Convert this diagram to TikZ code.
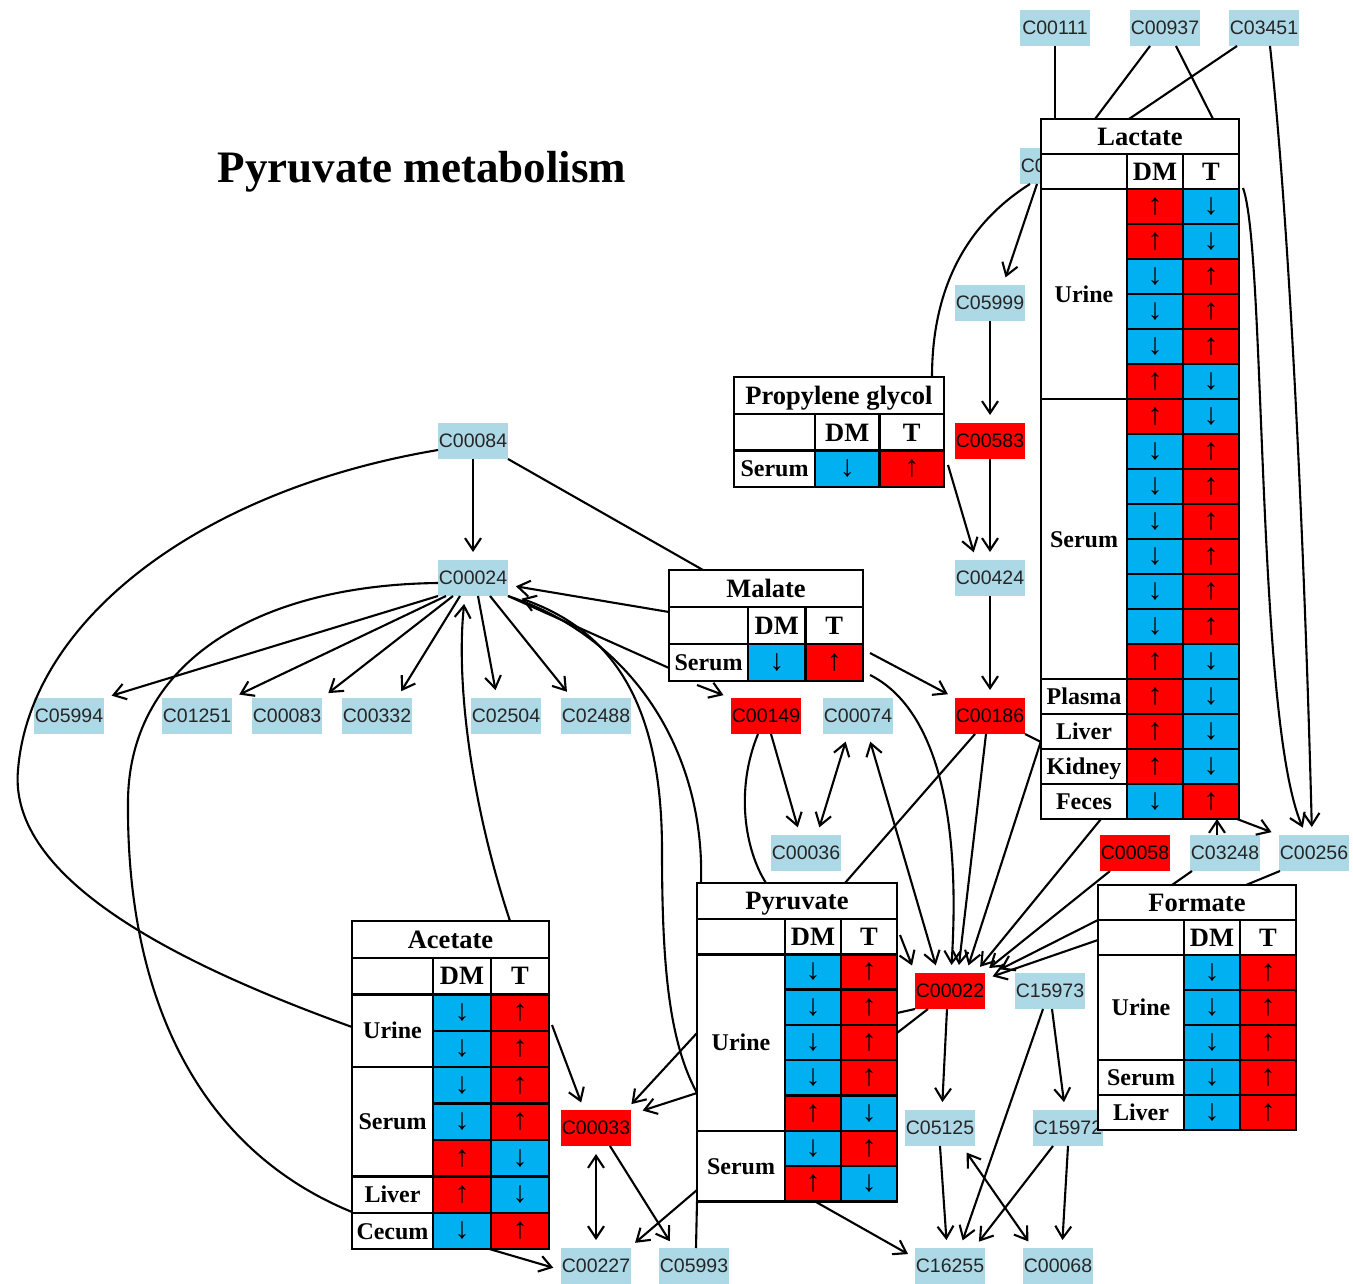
\documentclass[tikz,border=0pt]{standalone}
\usepackage{fontspec}
\setmainfont{Liberation Serif}
\newfontfamily\cfont{Liberation Sans}
\usetikzlibrary{arrows.meta}
\definecolor{kegg}{HTML}{ADD8E6}
\definecolor{upred}{HTML}{FF0000}
\definecolor{dnblue}{HTML}{00B0F0}

\tikzset{
  cpd/.style={rectangle, fill=kegg, minimum width=70pt, minimum height=36pt,
    inner sep=0pt, outer sep=0pt, text=black!85,
    font=\cfont\fontsize{19.5}{19.5}\selectfont},
  hit/.style={cpd, fill=upred, text=black},
  tabframe/.style={draw, fill=white, line width=2.4pt, inner sep=0pt, outer sep=0pt},
  tabline/.style={draw, line width=2.4pt},
  tabtitle/.style={inner sep=0pt, text height=17.5pt, text depth=0pt,
    font=\fontsize{26.5}{26.5}\selectfont\bfseries},
  tablabel/.style={inner sep=0pt, text height=16pt, text depth=0pt,
    font=\fontsize{24}{24}\selectfont\bfseries},
  glyph/.style={inner sep=0pt, font=\fontsize{30}{30}\selectfont\bfseries},
  link/.style={line width=2.1pt},
  arr/.style={link, -{Straight Barb[length=12pt,width=16pt]}, shorten >=8pt},
  dbl/.style={link, {Straight Barb[length=12pt,width=16pt]}-{Straight Barb[length=12pt,width=16pt]},
    shorten >=8pt, shorten <=8pt},
}

% table frame: #1 name, #2 title, #3 left, #4 top, #5 label width,
% #6 value column width, #7 title height, #8 row height, #9 data rows
\newcommand{\mtab}[9]{%
  \def\mtN{#1}%
  \pgfmathsetmacro\mtX{#3}%
  \pgfmathsetmacro\mtY{#4}%
  \pgfmathsetmacro\mtA{#3+#5}%
  \pgfmathsetmacro\mtB{#3+#5+#6}%
  \pgfmathsetmacro\mtC{#3+#5+2*#6}%
  \pgfmathsetmacro\mtT{#4+#7}%
  \pgfmathsetmacro\mtH{#4+#7+#8}%
  \pgfmathsetmacro\mtR{#8}%
  \pgfmathsetmacro\mtW{#5+2*#6}%
  \pgfmathsetmacro\mtZ{#7+(#9+1)*#8}%
  \node[tabframe, minimum width=\mtW pt, minimum height=\mtZ pt, anchor=north west] (#1) at (\mtX,\mtY) {};
  \draw[tabline] (\mtX,\mtT) -- (\mtC,\mtT);
  \draw[tabline] (\mtX,\mtH) -- (\mtC,\mtH);
  \draw[tabline] (\mtA,\mtT) -- (\mtA,\mtH);
  \draw[tabline] (\mtB,\mtT) -- (\mtB,\mtH);
  \node[tabtitle] (#1-title) at ({(\mtX+\mtC)/2},{(\mtY+\mtT)/2}) {#2};
  \node[tabtitle] (#1-dm) at ({(\mtA+\mtB)/2},{(\mtT+\mtH)/2}) {DM};
  \node[tabtitle] (#1-t) at ({(\mtB+\mtC)/2},{(\mtT+\mtH)/2}) {T};
}

% data rows: u = DM up / T down, d = DM down / T up
\newcommand{\mrows}[1]{%
  \foreach \v [count=\i from 0] in {#1} {%
    \pgfmathsetmacro\mcA{\mtH+\i*\mtR}%
    \pgfmathsetmacro\mcB{\mcA+\mtR}%
    \pgfmathsetmacro\mcM{\mcA+\mtR/2}%
    \if\v u%
      \def\mcL{upred}\def\mcRt{dnblue}\def\mcP{↑}\def\mcQ{↓}%
    \else
      \def\mcL{dnblue}\def\mcRt{upred}\def\mcP{↓}\def\mcQ{↑}%
    \fi
    \draw[tabline, fill=\mcL] (\mtA,\mcA) rectangle (\mtB,\mcB);
    \draw[tabline, fill=\mcRt] (\mtB,\mcA) rectangle (\mtC,\mcB);
    \node[glyph] (\mtN-dm\i) at ({(\mtA+\mtB)/2},\mcM) {\mcP};
    \node[glyph] (\mtN-t\i) at ({(\mtB+\mtC)/2},\mcM) {\mcQ};
  }%
}

% sample group: #1 label, #2 first row, #3 number of rows
\newcommand{\mgroup}[3]{%
  \pgfmathsetmacro\mgA{\mtH+#2*\mtR}%
  \pgfmathsetmacro\mgB{\mgA+#3*\mtR}%
  \draw[tabline] (\mtX,\mgA) rectangle (\mtA,\mgB);
  \node[tablabel] (\mtN-#1) at ({(\mtX+\mtA)/2},{(\mgA+\mgB)/2}) {#1};
}

\begin{document}
\begin{tikzpicture}[x=1pt,y=-1pt]
\fill[white] (0,0) rectangle (1353,1284);
\useasboundingbox (0,0) rectangle (1353,1284);

\node[font=\fontsize{45}{45}\selectfont\bfseries] (title) at (422,172) {Pyruvate metabolism};

% ---------- compounds ----------
\node[cpd] (c00111) at (1055,28) {C00111};
\node[cpd] (c00937) at (1165,28) {C00937};
\node[cpd] (c03451) at (1264,28) {C03451};
\node[cpd] (c00546) at (1055,166) {C00546};
\node[cpd] (c05999) at (990,303) {C05999};
\node[hit] (c00583) at (990,441) {C00583};
\node[cpd] (c00424) at (990,578) {C00424};
\node[hit] (c00186) at (990,716) {C00186};
\node[cpd] (c00084) at (473,441) {C00084};
\node[cpd] (c00024) at (473,578) {C00024};
\node[cpd] (c05994) at (69,716) {C05994};
\node[cpd] (c01251) at (197,716) {C01251};
\node[cpd] (c00083) at (287,716) {C00083};
\node[cpd] (c00332) at (377,716) {C00332};
\node[cpd] (c02504) at (506,716) {C02504};
\node[cpd] (c02488) at (596,716) {C02488};
\node[hit] (c00149) at (766,716) {C00149};
\node[cpd] (c00074) at (858,716) {C00074};
\node[cpd] (c00036) at (806,853) {C00036};
\node[hit] (c00058) at (1135,853) {C00058};
\node[cpd] (c03248) at (1225,853) {C03248};
\node[cpd] (c00256) at (1314,853) {C00256};
\node[hit] (c00022) at (950,991) {C00022};
\node[cpd] (c15973) at (1050,991) {C15973};
\node[cpd] (c05125) at (940,1128) {C05125};
\node[cpd] (c15972) at (1068,1128) {C15972};
\node[hit] (c00033) at (596,1128) {C00033};
\node[cpd] (c00227) at (596,1266) {C00227};
\node[cpd] (c05993) at (694,1266) {C05993};
\node[cpd] (c16255) at (950,1266) {C16255};
\node[cpd] (c00068) at (1058,1266) {C00068};

% ---------- metabolite tables ----------
\mtab{lact}{Lactate}{1041}{119}{86}{56}{35}{35}{18}
\mrows{u,u,d,d,d,u,u,d,d,d,d,d,d,u,u,u,u,d}
\mgroup{Urine}{0}{6}
\mgroup{Serum}{6}{8}
\mgroup{Plasma}{14}{1}
\mgroup{Liver}{15}{1}
\mgroup{Kidney}{16}{1}
\mgroup{Feces}{17}{1}

\mtab{pg}{Propylene glycol}{734}{377}{81}{64.5}{37}{36.5}{1}
\mrows{d}
\mgroup{Serum}{0}{1}

\mtab{mal}{Malate}{669}{570}{79}{57.5}{37}{37}{1}
\mrows{d}
\mgroup{Serum}{0}{1}

\mtab{ace}{Acetate}{352}{921}{81}{58}{37}{36.4}{7}
\mrows{d,d,d,d,u,u,d}
\mgroup{Urine}{0}{2}
\mgroup{Serum}{2}{3}
\mgroup{Liver}{5}{1}
\mgroup{Cecum}{6}{1}

\mtab{pyr}{Pyruvate}{697}{883}{88}{56}{36}{35.3}{7}
\mrows{d,d,d,d,u,d,u}
\mgroup{Urine}{0}{5}
\mgroup{Serum}{5}{2}

\mtab{fmt}{Formate}{1098}{885}{86}{56}{35}{35}{5}
\mrows{d,d,d,d,d}
\mgroup{Urine}{0}{3}
\mgroup{Serum}{3}{1}
\mgroup{Liver}{4}{1}

% ---------- connectors: lactate block ----------
\draw[link] (c00111.south) -- (c00111.south |- lact.north);
\draw[link] ([xshift=-15pt]c00937.south) -- ([xshift=54pt]lact.north west);
\draw[link] ([xshift=11pt]c00937.south) -- ([xshift=172pt]lact.north west);
\draw[link] ([xshift=-27pt]c03451.south) -- ([xshift=88pt]lact.north west);
\draw[arr] ([xshift=6pt]c03451.south) .. controls (1292,250) and (1306,600) .. ([xshift=-2pt]c00256.north);
\draw[arr] ([xshift=4pt,yshift=-69pt]lact.north east) .. controls (1266,250) and (1256,720) .. ([xshift=-8pt]c00256.north);
\draw[arr] ([xshift=17pt]c00546.south west) -- ([xshift=13pt]c05999.north);
\draw[link] ([xshift=10pt]c00546.south west) .. controls (965,225) and (932,290) .. ([xshift=198pt]pg.north west);
\draw[arr] (c05999.south) -- (c00583.north);
\draw[arr] (c00583.south) -- (c00424.north);
\draw[arr] ([xshift=4pt,yshift=-88pt]pg.north east) -- ([xshift=-14pt]c00424.north);
\draw[arr] (c00424.south) -- (c00186.north);
\draw[arr] ([xshift=7pt,yshift=-83pt]mal.north east) -- (c00186.north west);
\draw[link] (c00186.south east) -- ([yshift=-623pt]lact.north west);
\draw[link] ([xshift=-15pt]c00186.south) -- ([xshift=148pt]pyr.north west);
\draw[arr] ([xshift=60pt]lact.south west) -- ([xshift=25pt]c00022.north);
\draw[arr] ([xshift=196pt]lact.south west) -- (c00256.north west);
\draw[arr, shorten >=0pt] ([xshift=-8pt]c03248.north) -- ([xshift=176pt]lact.south west);
\draw[link] ([xshift=-33pt]c03248.south) -- ([xshift=74pt]fmt.north west);
\draw[link] ([xshift=-34pt]c00256.south) -- ([xshift=148pt]fmt.north west);

% ---------- connectors into C00022 ----------
\draw[arr] ([xshift=7pt,yshift=-105pt]mal.north east) .. controls (930,705) and (962,800) .. ([xshift=1pt]c00022.north);
\draw[arr] ([xshift=-4pt]c00186.south) -- ([xshift=8pt]c00022.north);
\draw[arr] ([yshift=-622pt]lact.north west) -- ([xshift=16pt]c00022.north);
\draw[arr] ([xshift=-25pt]c00058.south) -- ([xshift=-2pt]c00022.north east);
\draw[arr] ([yshift=-35pt]fmt.north west) -- ([xshift=8pt]c00022.north east);
\draw[arr] ([yshift=-55pt]fmt.north west) -- ([yshift=-6pt]c00022.north east);
\draw[dbl] ([xshift=10pt]c00074.south) -- ([xshift=-12pt]c00022.north);
\draw[arr] ([xshift=3pt,yshift=-52pt]pyr.north east) -- (c00022.north west);
\draw[link] ([yshift=-130pt]pyr.north east) -- (c00022.south west);
\draw[link] ([yshift=-150pt]pyr.north east) -- ([xshift=13pt]c00022.south west);

% ---------- connectors around C00084 / C00024 ----------
\draw[arr] (c00084.south) -- (c00024.north);
\draw[link] (c00084.south east) -- ([xshift=34pt]mal.north west);
\draw[link] ([yshift=-9pt]c00084.west) .. controls (200,490) and (30,620) .. (18,770)
  .. controls (8,880) and (180,965) .. ([yshift=-106pt]ace.north west);
\draw[link] ([yshift=-5pt]c00024.west) .. controls (260,585) and (130,660) .. (128,800)
  .. controls (126,1000) and (200,1150) .. ([yshift=-291pt]ace.north west);
\draw[arr] (c00024.south west) -- (c05994.north east);
\draw[arr] ([xshift=8pt]c00024.south west) -- (c01251.north east);
\draw[arr] ([xshift=15pt]c00024.south west) -- (c00083.north east);
\draw[arr] ([xshift=22pt]c00024.south west) -- ([xshift=20pt]c00332.north);
\draw[arr] ([xshift=5pt]c00024.south) -- ([xshift=-9pt]c02504.north);
\draw[arr] ([xshift=17pt]c00024.south) -- ([xshift=-24pt]c02488.north);
\draw[arr] ([xshift=158pt]ace.north west) .. controls (470,800) and (456,680) .. ([xshift=-8pt]c00024.south);
\draw[arr] ([yshift=-42pt]mal.north west) -- ([yshift=-7pt]c00024.east);
\draw[link] (c00024.south east) -- ([yshift=-98pt]mal.north west);
\draw[link] (c00024.south east) .. controls (640,640) and (705,760) .. ([xshift=4pt]pyr.north west);
\draw[arr] ([yshift=-210pt]pyr.north west) .. controls (668,1040) and (662,960) .. (662,850)
  .. controls (662,700) and (610,630) .. ([xshift=6pt]c00024.south east);

% ---------- connectors around C00149 / C00074 / C00036 ----------
\draw[arr] ([xshift=28pt,yshift=-4pt]mal.south west) -- (c00149.north west);
\draw[arr] ([xshift=5pt]c00149.south) -- ([xshift=-6pt]c00036.north);
\draw[dbl] ([xshift=-10pt]c00074.south) -- ([xshift=11pt]c00036.north);
\draw[link] ([xshift=-8pt]c00149.south) .. controls (735,790) and (745,850) .. ([xshift=69pt]pyr.north west);

% ---------- connectors around acetate / pyruvate ----------
\draw[arr] ([yshift=-150pt]pyr.north west) -- ([xshift=-5pt]c00033.north east);
\draw[arr] ([yshift=-210pt]pyr.north west) -- ([xshift=4pt,yshift=-3pt]c00033.north east);
\draw[arr] ([yshift=-307pt]pyr.north west) -- ([xshift=-2pt]c00227.north east);
\draw[arr] ([xshift=3pt,yshift=-104pt]ace.north east) -- ([xshift=-12pt]c00033.north);
\draw[dbl] (c00033.south) -- (c00227.north);
\draw[arr] ([xshift=14pt]c00033.south) -- ([xshift=-20pt]c05993.north);
\draw[arr] ([xshift=138pt]ace.south west) -- ([yshift=-4pt]c00227.west);
\draw[link] ([xshift=2pt]c05993.north) -- (pyr.south west);
\draw[arr] ([xshift=118pt]pyr.south west) -- ([yshift=8pt]c16255.west);

% ---------- lower right ----------
\draw[arr] ([xshift=-3pt]c00022.south) -- ([xshift=2pt]c05125.north);
\draw[arr] ([xshift=2pt]c15973.south) -- ([xshift=-3pt]c15972.north);
\draw[arr] ([xshift=-7pt]c15973.south) -- ([xshift=10pt]c16255.north);
\draw[arr] (c05125.south) -- ([xshift=-3pt]c16255.north);
\draw[arr] ([xshift=-15pt]c15972.south) -- ([xshift=24pt]c16255.north);
\draw[arr] (c15972.south) -- ([xshift=4pt]c00068.north);
\draw[dbl] ([xshift=22pt]c05125.south) -- ([xshift=-25pt]c00068.north);

\end{tikzpicture}
\end{document}
